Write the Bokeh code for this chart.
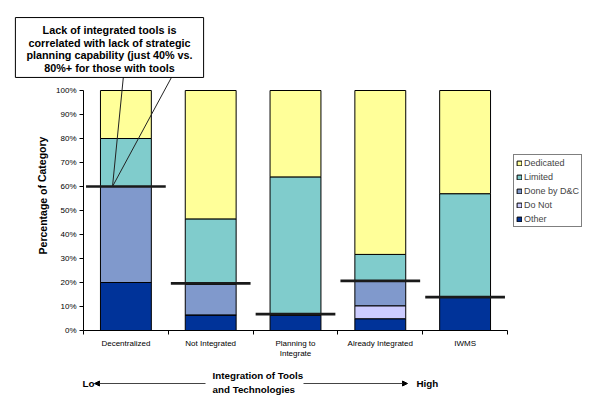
from bokeh.plotting import figure
from bokeh.models import (Range1d, FixedTicker, Legend, LegendItem, Label,
                          Arrow, NormalHead, ColumnDataSource, LinearAxis)
from bokeh.embed import file_html
from bokeh.resources import INLINE

# ---- data ----
categories = ["Decentralized", "Not Integrated", "Planning to\nIntegrate",
              "Already Integrated", "IWMS"]
other = [20, 6.5, 6.5, 4.9, 13.9]
do_not = [0, 0, 0, 5.4, 0]
done_dc = [40, 12.7, 0, 10.5, 0]
limited = [20, 27.3, 57.5, 10.9, 43.1]
dedicated = [20, 53.5, 36, 68.3, 43]
thresholds = [60, 19.6, 6.8, 20.7, 13.9]
series = ["Other", "Do Not", "Done by D&C", "Limited", "Dedicated"]
colors = ["#003399", "#CCCCFF", "#8099CC", "#80CCCC", "#FFFF99"]
y_ticks = list(range(0, 101, 10))

FONT = "Liberation Sans"
W, H = 594, 398
xs = [i + 1 for i in range(len(categories))]
n = len(categories)

# plot area in canvas pixels (left, right, top, bottom)
PL, PR, PT, PB = 83, 507, 90, 330
xpx = (PR - PL) / n
ypx = (PB - PT) / 100.0

src = ColumnDataSource(dict(x=xs, Other=other, DoNot=do_not, DoneDC=done_dc,
                            Limited=limited, Dedicated=dedicated))

p = figure(width=W, height=H, output_backend="svg", toolbar_location=None,
           x_axis_location=None, y_axis_location=None,
           x_range=Range1d(0.5 - PL / xpx, n + 0.5 + (W - PR) / xpx),
           y_range=Range1d(-(H - PB) / ypx, 100 + PT / ypx),
           min_border=0)
p.outline_line_color = None
p.grid.visible = False
p.background_fill_color = "white"

rs = p.vbar_stack(["Other", "DoNot", "DoneDC", "Limited", "Dedicated"], x="x",
                  width=0.6, source=src, fill_color=colors, line_color="black",
                  line_width=1)

# threshold lines
p.segment(x0=[x - 0.47 for x in xs], x1=[x + 0.47 for x in xs],
          y0=thresholds, y1=thresholds, line_color="#1a1a1a", line_width=2.7)

# y axis
ya = LinearAxis(fixed_location=0.5, bounds=(0, 100),
                ticker=FixedTicker(ticks=y_ticks, minor_ticks=[]))
ya.major_label_overrides = {t: f"{t}%" for t in y_ticks}
ya.major_label_text_font = FONT
ya.major_label_text_font_size = "8px"
ya.major_label_text_color = "black"
ya.major_tick_out = 4
ya.major_tick_in = 0
ya.major_label_standoff = 3
ya.axis_line_color = "black"
ya.major_tick_line_color = "black"
p.add_layout(ya, "left")

# x axis: labels at centres, ticks at boundaries
xa = LinearAxis(fixed_location=0, bounds=(0.5, n + 0.5),
                ticker=FixedTicker(ticks=xs,
                                   minor_ticks=[x - 0.5 for x in xs] + [xs[-1] + 0.5]))
xa.major_label_overrides = {x: c for x, c in zip(xs, categories)}
xa.major_label_text_font = FONT
xa.major_label_text_font_size = "8px"
xa.major_label_text_color = "black"
xa.major_tick_line_color = None
xa.major_tick_out = 4
xa.major_label_standoff = 4
xa.minor_tick_out = 4
xa.minor_tick_in = 0
xa.minor_tick_line_color = "black"
xa.axis_line_color = "black"
p.add_layout(xa, "below")

# legend
items = [LegendItem(label=s, renderers=[r]) for s, r in zip(series, rs)][::-1]
leg = Legend(items=items, location=(513, 171), border_line_color="black",
             border_line_width=1, background_fill_color="white",
             background_fill_alpha=1, glyph_width=6, glyph_height=6,
             label_text_font=FONT, label_text_font_size="9px", label_height=11,
             label_standoff=2, padding=2, spacing=3, margin=0)
p.add_layout(leg, "center")

# y axis label
p.add_layout(Label(x=42, y=203, x_units="screen", y_units="screen",
                   text="Percentage of Category", angle=1.5708,
                   text_align="center", text_baseline="middle",
                   text_font=FONT, text_font_style="bold",
                   text_font_size="10.5px", text_color="black"))

# callout lines
for sx in (123, 172):
    p.add_layout(Arrow(end=None, x_start=sx, y_start=323, x_end=112, y_end=212,
                       start_units="screen", end_units="screen",
                       line_color="#222222", line_width=1))

# callout box
p.add_layout(Label(x=109, y=351, x_units="screen", y_units="screen",
                   text="Lack of integrated tools is\ncorrelated with lack of strategic\nplanning capability (just 40% vs.\n80%+ for those with tools",
                   text_align="center", text_baseline="middle",
                   text_font=FONT, text_font_style="bold", text_font_size="10.8px",
                   text_color="black", background_fill_color="white",
                   border_line_color="black", border_line_width=1,
                   text_line_height=1.08,
                   padding=dict(left=11, right=11, top=6, bottom=3)))

# bottom axis annotation
p.add_layout(Label(x=212, y=16, x_units="screen", y_units="screen",
                   text="Integration of Tools\nand Technologies",
                   text_align="left", text_baseline="middle",
                   text_font=FONT, text_font_style="bold", text_font_size="9.8px",
                   text_color="black", text_line_height=1.25))
p.add_layout(Label(x=82, y=15, x_units="screen", y_units="screen", text="Lo",
                   text_align="left", text_baseline="middle",
                   text_font=FONT, text_font_style="bold", text_font_size="9.8px",
                   text_color="black"))
p.add_layout(Label(x=416, y=15, x_units="screen", y_units="screen", text="High",
                   text_align="left", text_baseline="middle",
                   text_font=FONT, text_font_style="bold", text_font_size="9.8px",
                   text_color="black"))
p.add_layout(Arrow(end=NormalHead(size=5, fill_color="black", line_color="black"),
                   x_start=205, y_start=15, x_end=94, y_end=15,
                   start_units="screen", end_units="screen",
                   line_color="#444444", line_width=1))
p.add_layout(Arrow(end=NormalHead(size=5, fill_color="black", line_color="black"),
                   x_start=303, y_start=15, x_end=407, y_end=15,
                   start_units="screen", end_units="screen",
                   line_color="#444444", line_width=1))

open("out.html", "w").write(file_html(p, INLINE))
